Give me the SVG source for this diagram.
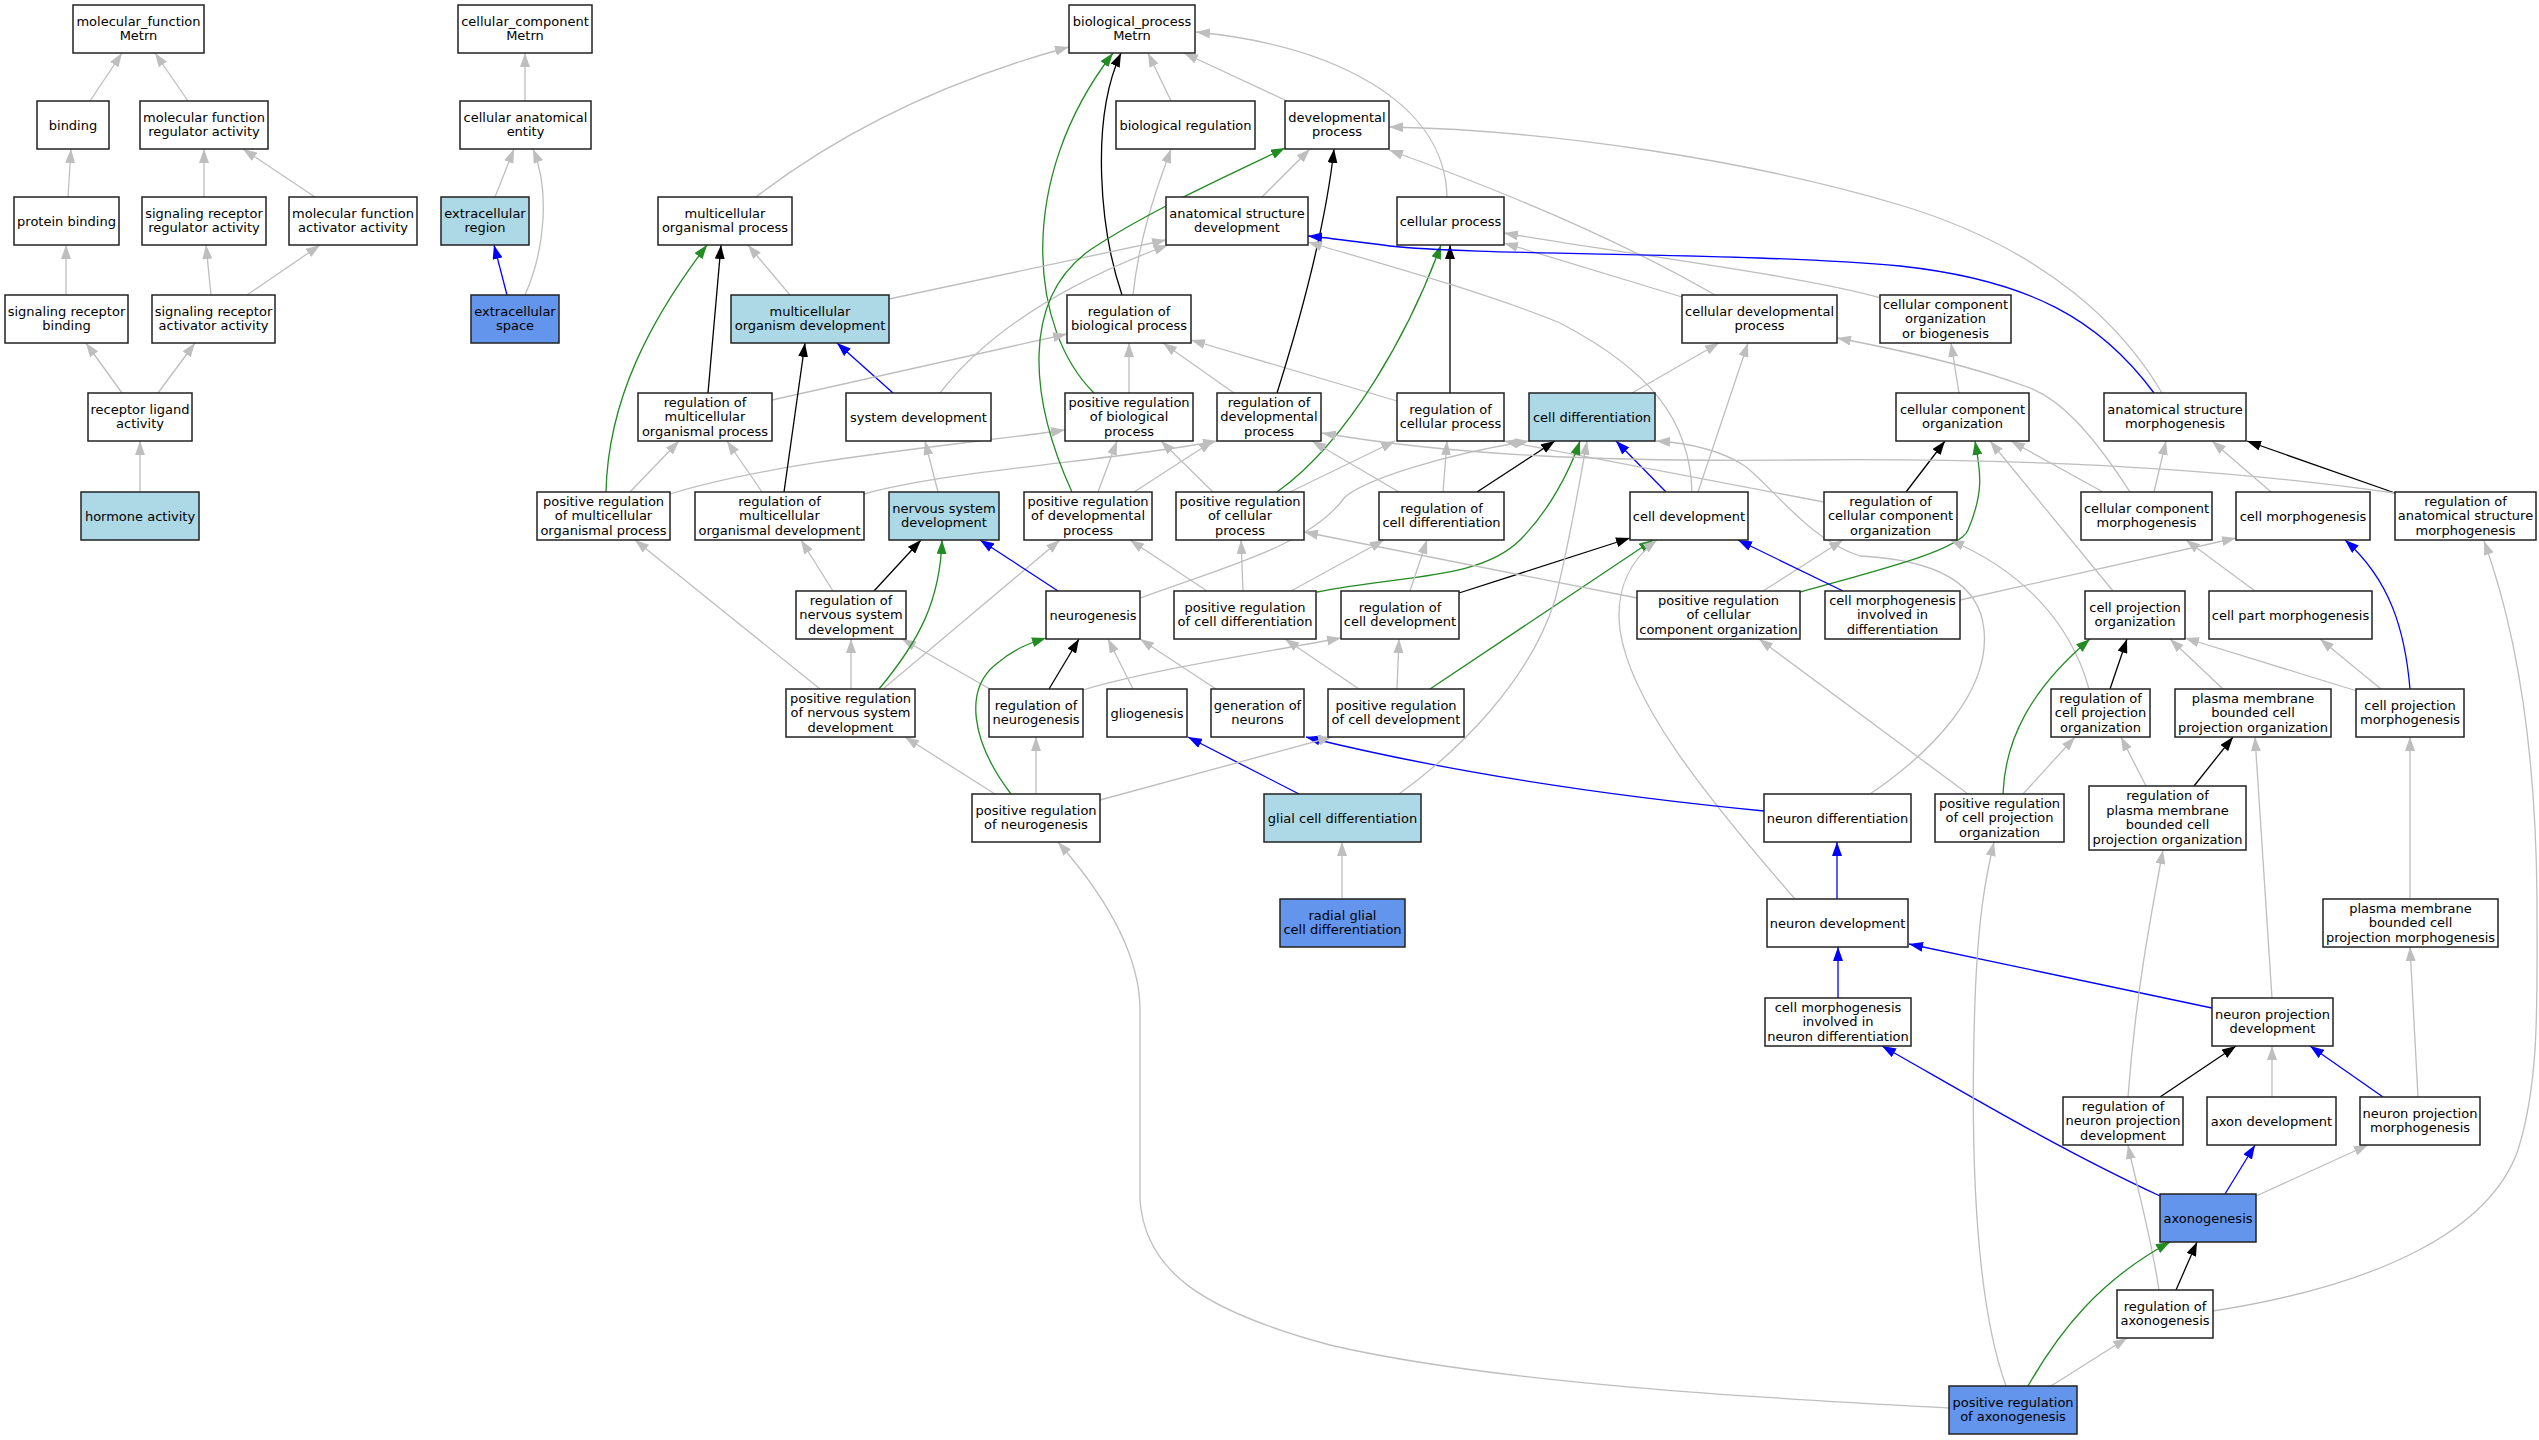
<svg xmlns="http://www.w3.org/2000/svg" width="2539" height="1440" viewBox="0 0 2539 1440">
<style>
.e{fill:none;stroke-width:1.3}
.g{stroke:#BEBEBE;marker-end:url(#mg)}
.k{stroke:#000000;marker-end:url(#mk)}
.b{stroke:#0000FF;marker-end:url(#mb)}
.v{stroke:#228B22;marker-end:url(#mv)}
.n rect{fill:#FFFFFF;stroke:#222222;stroke-width:1.5}
.lb rect{fill:#ADD8E6}
.cb rect{fill:#6495ED}
text{font-family:"DejaVu Sans","Liberation Sans",sans-serif;font-size:13px;text-anchor:middle;fill:#000000}
</style>
<defs>
<marker id="mg" viewBox="0 0 14 10" refX="14" refY="5" markerWidth="14" markerHeight="10" markerUnits="userSpaceOnUse" orient="auto"><path d="M0,0L14,5L0,10z" fill="#BEBEBE"/></marker>
<marker id="mk" viewBox="0 0 14 10" refX="14" refY="5" markerWidth="14" markerHeight="10" markerUnits="userSpaceOnUse" orient="auto"><path d="M0,0L14,5L0,10z" fill="#000000"/></marker>
<marker id="mb" viewBox="0 0 14 10" refX="14" refY="5" markerWidth="14" markerHeight="10" markerUnits="userSpaceOnUse" orient="auto"><path d="M0,0L14,5L0,10z" fill="#0000FF"/></marker>
<marker id="mv" viewBox="0 0 14 10" refX="14" refY="5" markerWidth="14" markerHeight="10" markerUnits="userSpaceOnUse" orient="auto"><path d="M0,0L14,5L0,10z" fill="#228B22"/></marker>
</defs>
<rect width="2539" height="1440" fill="#FFFFFF"/>
<g id="connectors">
<path class="e g" d="M90,101 L122,53"/>
<path class="e g" d="M188,101 L155,53"/>
<path class="e g" d="M68,197 L71,149"/>
<path class="e g" d="M204,197 L204,149"/>
<path class="e g" d="M315,197 L243,149"/>
<path class="e g" d="M66,295 L66,245"/>
<path class="e g" d="M211,295 L206,245"/>
<path class="e g" d="M247,295 L320,245"/>
<path class="e g" d="M122,393 L86,343"/>
<path class="e g" d="M158,393 L195,343"/>
<path class="e g" d="M140,492 L140,441"/>
<path class="e g" d="M525,101 L525,53"/>
<path class="e g" d="M495,197 L514,149"/>
<path class="e g" d="M525,295 C545,250 550,190 533,149"/>
<path class="e b" d="M507,295 L494,245"/>
<path class="e g" d="M756,197 C830,140 930,85 1069,47"/>
<path class="e g" d="M1171,101 L1148,53"/>
<path class="e g" d="M1287,101 L1184,53"/>
<path class="e g" d="M1447,197 C1445,100 1330,45 1196,32"/>
<path class="e k" d="M1122,295 C1100,230 1090,120 1121,53"/>
<path class="e v" d="M1094,393 C1030,330 1015,180 1113,53"/>
<path class="e g" d="M1133,295 C1140,230 1160,180 1171,149"/>
<path class="e g" d="M1262,197 L1310,149"/>
<path class="e g" d="M790,295 L748,245"/>
<path class="e g" d="M889,299 L1166,240"/>
<path class="e g" d="M940,393 C985,335 1060,285 1168,245"/>
<path class="e b" d="M893,393 L837,343"/>
<path class="e k" d="M708,393 L721,245"/>
<path class="e g" d="M772,400 L1067,334"/>
<path class="e v" d="M606,492 C608,400 650,320 707,245"/>
<path class="e g" d="M630,492 L679,441"/>
<path class="e g" d="M670,494 C780,460 960,445 1065,430"/>
<path class="e k" d="M784,492 L805,343"/>
<path class="e g" d="M762,492 L727,441"/>
<path class="e g" d="M864,494 C950,470 1120,460 1217,441"/>
<path class="e g" d="M938,492 L925,441"/>
<path class="e g" d="M1129,393 L1129,343"/>
<path class="e g" d="M1234,393 L1163,343"/>
<path class="e g" d="M1397,401 L1191,340"/>
<path class="e k" d="M1277,393 C1300,320 1325,230 1334,149"/>
<path class="e k" d="M1450,393 L1450,245"/>
<path class="e v" d="M1072,492 C1030,400 1020,300 1090,250 C1150,210 1230,175 1285,148"/>
<path class="e g" d="M1098,492 L1117,441"/>
<path class="e g" d="M1134,492 L1213,441"/>
<path class="e g" d="M1213,492 L1161,441"/>
<path class="e g" d="M1290,492 L1395,441"/>
<path class="e v" d="M1277,492 C1350,440 1410,330 1441,245"/>
<path class="e g" d="M1715,295 C1620,240 1500,190 1389,150"/>
<path class="e g" d="M1682,297 L1504,243"/>
<path class="e g" d="M1881,298 C1800,275 1600,250 1504,233"/>
<path class="e g" d="M1632,393 L1719,343"/>
<path class="e g" d="M2162,393 C2125,330 2050,250 1900,205 C1750,160 1550,130 1389,127"/>
<path class="e b" d="M2154,393 C2100,320 2030,280 1900,266 C1750,252 1480,256 1390,246 C1350,241 1330,238 1308,236"/>
<path class="e b" d="M1666,492 L1616,441"/>
<path class="e g" d="M1698,492 L1748,343"/>
<path class="e g" d="M1692,492 C1690,420 1650,370 1560,323 C1480,290 1350,255 1308,242"/>
<path class="e g" d="M1959,393 L1951,343"/>
<path class="e k" d="M1906,492 L1945,441"/>
<path class="e g" d="M1824,502 L1504,441"/>
<path class="e g" d="M1140,598 C1230,565 1310,545 1345,497 C1365,480 1440,455 1529,441"/>
<path class="e k" d="M1477,492 L1555,441"/>
<path class="e g" d="M1443,492 L1447,441"/>
<path class="e g" d="M1399,492 L1312,441"/>
<path class="e v" d="M1317,592 C1400,575 1480,580 1520,540 C1550,510 1570,470 1580,441"/>
<path class="e g" d="M1291,591 L1384,540"/>
<path class="e g" d="M1243,591 L1241,540"/>
<path class="e g" d="M1207,591 L1130,540"/>
<path class="e k" d="M1459,593 L1630,538"/>
<path class="e g" d="M1410,591 L1427,540"/>
<path class="e v" d="M1430,689 L1653,540"/>
<path class="e g" d="M1397,689 L1399,639"/>
<path class="e g" d="M1359,689 L1285,639"/>
<path class="e g" d="M1795,899 C1700,790 1630,700 1620,630 C1615,590 1630,560 1657,540"/>
<path class="e g" d="M1870,794 C1935,750 1990,690 1984,630 C1980,585 1940,560 1860,556 C1810,540 1775,490 1745,466 C1720,450 1690,443 1656,441"/>
<path class="e b" d="M1838,998 L1838,947"/>
<path class="e b" d="M1837,899 L1837,842"/>
<path class="e b" d="M1764,811 C1620,797 1460,775 1306,737"/>
<path class="e b" d="M1299,794 L1188,737"/>
<path class="e g" d="M1399,794 C1460,750 1530,680 1555,600 C1570,540 1580,480 1587,441"/>
<path class="e g" d="M1342,899 L1342,842"/>
<path class="e g" d="M1216,689 L1140,639"/>
<path class="e g" d="M1133,689 L1108,639"/>
<path class="e k" d="M1049,689 L1079,639"/>
<path class="e g" d="M990,689 L902,639"/>
<path class="e g" d="M1083,690 C1150,670 1250,655 1341,638"/>
<path class="e v" d="M1011,794 C970,740 965,690 995,665 C1015,648 1030,643 1046,638"/>
<path class="e g" d="M1036,794 L1036,737"/>
<path class="e g" d="M995,794 L905,737"/>
<path class="e g" d="M1100,800 L1332,737"/>
<path class="e k" d="M874,591 L921,540"/>
<path class="e g" d="M833,591 L801,540"/>
<path class="e v" d="M879,689 C920,640 940,600 942,540"/>
<path class="e g" d="M851,689 L851,639"/>
<path class="e g" d="M820,689 L635,540"/>
<path class="e g" d="M883,689 L1060,540"/>
<path class="e b" d="M1058,591 L980,540"/>
<path class="e v" d="M1800,592 C1880,570 1960,550 1968,530 C1985,490 1980,470 1975,441"/>
<path class="e g" d="M1763,591 L1843,540"/>
<path class="e g" d="M1637,598 L1304,532"/>
<path class="e b" d="M1843,591 L1738,540"/>
<path class="e g" d="M1960,600 L2236,538"/>
<path class="e g" d="M2113,591 L1990,441"/>
<path class="e g" d="M2103,492 L2011,441"/>
<path class="e g" d="M2154,492 L2166,441"/>
<path class="e g" d="M2130,492 C2090,430 2060,400 2030,388 C1970,365 1900,350 1837,338"/>
<path class="e g" d="M2271,492 L2212,441"/>
<path class="e g" d="M2255,591 L2186,540"/>
<path class="e k" d="M2395,493 L2247,441"/>
<path class="e g" d="M2394,493 C2200,465 2000,458 1800,460 C1600,462 1450,455 1322,433"/>
<path class="e k" d="M2110,689 L2127,639"/>
<path class="e g" d="M2089,689 C2070,620 2020,570 1950,540"/>
<path class="e v" d="M2003,794 C2005,740 2030,690 2090,639"/>
<path class="e g" d="M2023,794 L2075,737"/>
<path class="e g" d="M1968,794 L1759,639"/>
<path class="e g" d="M2223,689 L2170,639"/>
<path class="e k" d="M2194,786 L2233,737"/>
<path class="e g" d="M2146,786 L2121,737"/>
<path class="e g" d="M2357,691 L2185,638"/>
<path class="e g" d="M2381,689 L2320,639"/>
<path class="e b" d="M2410,689 C2405,630 2390,580 2345,540"/>
<path class="e g" d="M2410,899 L2410,737"/>
<path class="e g" d="M2272,998 L2255,737"/>
<path class="e b" d="M2212,1008 L1909,944"/>
<path class="e k" d="M2160,1097 L2236,1046"/>
<path class="e g" d="M2128,1097 C2135,1000 2150,920 2163,850"/>
<path class="e g" d="M2272,1097 L2272,1046"/>
<path class="e b" d="M2383,1097 L2310,1046"/>
<path class="e g" d="M2418,1097 L2410,947"/>
<path class="e b" d="M2225,1194 L2255,1145"/>
<path class="e b" d="M2160,1196 C2060,1150 1960,1090 1882,1046"/>
<path class="e g" d="M2256,1196 L2368,1145"/>
<path class="e k" d="M2176,1290 L2197,1242"/>
<path class="e g" d="M2159,1290 C2150,1230 2135,1180 2128,1145"/>
<path class="e g" d="M2213,1311 C2380,1285 2490,1230 2518,1150 C2540,1080 2537,1000 2537,900 C2536,760 2520,640 2484,541"/>
<path class="e v" d="M2028,1386 C2060,1330 2100,1280 2170,1242"/>
<path class="e g" d="M2051,1386 L2127,1338"/>
<path class="e g" d="M2006,1386 C1975,1300 1970,1150 1975,1000 C1978,920 1985,880 1994,842"/>
<path class="e g" d="M1949,1408 C1800,1400 1500,1385 1330,1345 C1200,1310 1145,1270 1140,1200 L1140,1010 C1140,950 1100,890 1058,842"/>
</g>
<g id="n_mf" class="n"><rect x="73" y="5" width="131" height="48"/><text x="138.5" y="26">molecular_function</text><text x="138.5" y="40">Metrn</text></g>
<g id="n_cc" class="n"><rect x="458" y="5" width="134" height="48"/><text x="525" y="26">cellular_component</text><text x="525" y="40">Metrn</text></g>
<g id="n_bp" class="n"><rect x="1069" y="5" width="126" height="48"/><text x="1132" y="26">biological_process</text><text x="1132" y="40">Metrn</text></g>
<g id="n_binding" class="n"><rect x="37" y="101" width="72" height="48"/><text x="73" y="129.5">binding</text></g>
<g id="n_mfra" class="n"><rect x="140" y="101" width="128" height="48"/><text x="204" y="122">molecular function</text><text x="204" y="136">regulator activity</text></g>
<g id="n_cae" class="n"><rect x="460" y="101" width="131" height="48"/><text x="525.5" y="122">cellular anatomical</text><text x="525.5" y="136">entity</text></g>
<g id="n_bioreg" class="n"><rect x="1116" y="101" width="139" height="48"/><text x="1185.5" y="129.5">biological regulation</text></g>
<g id="n_devproc" class="n"><rect x="1285" y="101" width="104" height="48"/><text x="1337" y="122">developmental</text><text x="1337" y="136">process</text></g>
<g id="n_protbind" class="n"><rect x="14" y="197" width="105" height="48"/><text x="66.5" y="225.5">protein binding</text></g>
<g id="n_srra" class="n"><rect x="142" y="197" width="124" height="48"/><text x="204" y="218">signaling receptor</text><text x="204" y="232">regulator activity</text></g>
<g id="n_mfaa" class="n"><rect x="289" y="197" width="128" height="48"/><text x="353" y="218">molecular function</text><text x="353" y="232">activator activity</text></g>
<g id="n_exreg" class="n lb"><rect x="441" y="197" width="88" height="48"/><text x="485" y="218">extracellular</text><text x="485" y="232">region</text></g>
<g id="n_mop" class="n"><rect x="658" y="197" width="134" height="48"/><text x="725" y="218">multicellular</text><text x="725" y="232">organismal process</text></g>
<g id="n_asd" class="n"><rect x="1166" y="197" width="142" height="48"/><text x="1237" y="218">anatomical structure</text><text x="1237" y="232">development</text></g>
<g id="n_cellproc" class="n"><rect x="1397" y="197" width="107" height="48"/><text x="1450.5" y="225.5">cellular process</text></g>
<g id="n_srb" class="n"><rect x="5" y="295" width="123" height="48"/><text x="66.5" y="316">signaling receptor</text><text x="66.5" y="330">binding</text></g>
<g id="n_sraa" class="n"><rect x="152" y="295" width="123" height="48"/><text x="213.5" y="316">signaling receptor</text><text x="213.5" y="330">activator activity</text></g>
<g id="n_exspace" class="n cb"><rect x="471" y="295" width="88" height="48"/><text x="515" y="316">extracellular</text><text x="515" y="330">space</text></g>
<g id="n_mod" class="n lb"><rect x="731" y="295" width="158" height="48"/><text x="810" y="316">multicellular</text><text x="810" y="330">organism development</text></g>
<g id="n_rbp" class="n"><rect x="1067" y="295" width="124" height="48"/><text x="1129" y="316">regulation of</text><text x="1129" y="330">biological process</text></g>
<g id="n_cdp" class="n"><rect x="1682" y="295" width="155" height="48"/><text x="1759.5" y="316">cellular developmental</text><text x="1759.5" y="330">process</text></g>
<g id="n_ccob" class="n"><rect x="1880" y="295" width="131" height="48"/><text x="1945.5" y="308.5">cellular component</text><text x="1945.5" y="323">organization</text><text x="1945.5" y="337.5">or biogenesis</text></g>
<g id="n_rla" class="n"><rect x="88" y="393" width="104" height="48"/><text x="140" y="414">receptor ligand</text><text x="140" y="428">activity</text></g>
<g id="n_rmop" class="n"><rect x="638" y="393" width="134" height="48"/><text x="705" y="406.5">regulation of</text><text x="705" y="421">multicellular</text><text x="705" y="435.5">organismal process</text></g>
<g id="n_sysdev" class="n"><rect x="846" y="393" width="145" height="48"/><text x="918.5" y="421.5">system development</text></g>
<g id="n_prbp" class="n"><rect x="1065" y="393" width="128" height="48"/><text x="1129" y="406.5">positive regulation</text><text x="1129" y="421">of biological</text><text x="1129" y="435.5">process</text></g>
<g id="n_rdp" class="n"><rect x="1217" y="393" width="104" height="48"/><text x="1269" y="406.5">regulation of</text><text x="1269" y="421">developmental</text><text x="1269" y="435.5">process</text></g>
<g id="n_rcp" class="n"><rect x="1397" y="393" width="107" height="48"/><text x="1450.5" y="414">regulation of</text><text x="1450.5" y="428">cellular process</text></g>
<g id="n_celldiff" class="n lb"><rect x="1529" y="393" width="126" height="48"/><text x="1592" y="421.5">cell differentiation</text></g>
<g id="n_cco" class="n"><rect x="1896" y="393" width="133" height="48"/><text x="1962.5" y="414">cellular component</text><text x="1962.5" y="428">organization</text></g>
<g id="n_asm" class="n"><rect x="2104" y="393" width="142" height="48"/><text x="2175" y="414">anatomical structure</text><text x="2175" y="428">morphogenesis</text></g>
<g id="n_hormone" class="n lb"><rect x="81" y="492" width="118" height="48"/><text x="140" y="520.5">hormone activity</text></g>
<g id="n_prmop" class="n"><rect x="537" y="492" width="133" height="48"/><text x="603.5" y="505.5">positive regulation</text><text x="603.5" y="520">of multicellular</text><text x="603.5" y="534.5">organismal process</text></g>
<g id="n_rmod" class="n"><rect x="695" y="492" width="169" height="48"/><text x="779.5" y="505.5">regulation of</text><text x="779.5" y="520">multicellular</text><text x="779.5" y="534.5">organismal development</text></g>
<g id="n_nsd" class="n lb"><rect x="889" y="492" width="110" height="48"/><text x="944" y="513">nervous system</text><text x="944" y="527">development</text></g>
<g id="n_prdp" class="n"><rect x="1024" y="492" width="128" height="48"/><text x="1088" y="505.5">positive regulation</text><text x="1088" y="520">of developmental</text><text x="1088" y="534.5">process</text></g>
<g id="n_prcp" class="n"><rect x="1176" y="492" width="128" height="48"/><text x="1240" y="505.5">positive regulation</text><text x="1240" y="520">of cellular</text><text x="1240" y="534.5">process</text></g>
<g id="n_rcd" class="n"><rect x="1379" y="492" width="125" height="48"/><text x="1441.5" y="513">regulation of</text><text x="1441.5" y="527">cell differentiation</text></g>
<g id="n_celldev" class="n"><rect x="1630" y="492" width="118" height="48"/><text x="1689" y="520.5">cell development</text></g>
<g id="n_rcco" class="n"><rect x="1824" y="492" width="133" height="48"/><text x="1890.5" y="505.5">regulation of</text><text x="1890.5" y="520">cellular component</text><text x="1890.5" y="534.5">organization</text></g>
<g id="n_ccm" class="n"><rect x="2081" y="492" width="131" height="48"/><text x="2146.5" y="513">cellular component</text><text x="2146.5" y="527">morphogenesis</text></g>
<g id="n_cellmorph" class="n"><rect x="2236" y="492" width="134" height="48"/><text x="2303" y="520.5">cell morphogenesis</text></g>
<g id="n_rasm" class="n"><rect x="2395" y="492" width="141" height="48"/><text x="2465.5" y="505.5">regulation of</text><text x="2465.5" y="520">anatomical structure</text><text x="2465.5" y="534.5">morphogenesis</text></g>
<g id="n_rnsd" class="n"><rect x="796" y="591" width="110" height="48"/><text x="851" y="604.5">regulation of</text><text x="851" y="619">nervous system</text><text x="851" y="633.5">development</text></g>
<g id="n_neuro" class="n"><rect x="1046" y="591" width="94" height="48"/><text x="1093" y="619.5">neurogenesis</text></g>
<g id="n_prcd" class="n"><rect x="1174" y="591" width="142" height="48"/><text x="1245" y="612">positive regulation</text><text x="1245" y="626">of cell differentiation</text></g>
<g id="n_rcdev" class="n"><rect x="1341" y="591" width="118" height="48"/><text x="1400" y="612">regulation of</text><text x="1400" y="626">cell development</text></g>
<g id="n_prcco" class="n"><rect x="1637" y="591" width="163" height="48"/><text x="1718.5" y="604.5">positive regulation</text><text x="1718.5" y="619">of cellular</text><text x="1718.5" y="633.5">component organization</text></g>
<g id="n_cmid" class="n"><rect x="1825" y="591" width="135" height="48"/><text x="1892.5" y="604.5">cell morphogenesis</text><text x="1892.5" y="619">involved in</text><text x="1892.5" y="633.5">differentiation</text></g>
<g id="n_cpo" class="n"><rect x="2085" y="591" width="100" height="48"/><text x="2135" y="612">cell projection</text><text x="2135" y="626">organization</text></g>
<g id="n_cpart" class="n"><rect x="2209" y="591" width="163" height="48"/><text x="2290.5" y="619.5">cell part morphogenesis</text></g>
<g id="n_prnsd" class="n"><rect x="786" y="689" width="129" height="48"/><text x="850.5" y="702.5">positive regulation</text><text x="850.5" y="717">of nervous system</text><text x="850.5" y="731.5">development</text></g>
<g id="n_rneuro" class="n"><rect x="989" y="689" width="94" height="48"/><text x="1036" y="710">regulation of</text><text x="1036" y="724">neurogenesis</text></g>
<g id="n_glio" class="n"><rect x="1107" y="689" width="80" height="48"/><text x="1147" y="717.5">gliogenesis</text></g>
<g id="n_genneur" class="n"><rect x="1211" y="689" width="93" height="48"/><text x="1257.5" y="710">generation of</text><text x="1257.5" y="724">neurons</text></g>
<g id="n_prcdev" class="n"><rect x="1328" y="689" width="136" height="48"/><text x="1396" y="710">positive regulation</text><text x="1396" y="724">of cell development</text></g>
<g id="n_rcpo" class="n"><rect x="2051" y="689" width="99" height="48"/><text x="2100.5" y="702.5">regulation of</text><text x="2100.5" y="717">cell projection</text><text x="2100.5" y="731.5">organization</text></g>
<g id="n_pmbcpo" class="n"><rect x="2175" y="689" width="156" height="48"/><text x="2253" y="702.5">plasma membrane</text><text x="2253" y="717">bounded cell</text><text x="2253" y="731.5">projection organization</text></g>
<g id="n_cpmorph" class="n"><rect x="2356" y="689" width="108" height="48"/><text x="2410" y="710">cell projection</text><text x="2410" y="724">morphogenesis</text></g>
<g id="n_prneuro" class="n"><rect x="972" y="794" width="128" height="48"/><text x="1036" y="815">positive regulation</text><text x="1036" y="829">of neurogenesis</text></g>
<g id="n_glialdiff" class="n lb"><rect x="1264" y="794" width="157" height="48"/><text x="1342.5" y="822.5">glial cell differentiation</text></g>
<g id="n_neurdiff" class="n"><rect x="1764" y="794" width="147" height="48"/><text x="1837.5" y="822.5">neuron differentiation</text></g>
<g id="n_prcpo" class="n"><rect x="1935" y="794" width="129" height="48"/><text x="1999.5" y="807.5">positive regulation</text><text x="1999.5" y="822">of cell projection</text><text x="1999.5" y="836.5">organization</text></g>
<g id="n_rpmbcpo" class="n"><rect x="2089" y="786" width="157" height="64"/><text x="2167.5" y="800">regulation of</text><text x="2167.5" y="814.5">plasma membrane</text><text x="2167.5" y="829">bounded cell</text><text x="2167.5" y="843.5">projection organization</text></g>
<g id="n_radial" class="n cb"><rect x="1280" y="899" width="125" height="48"/><text x="1342.5" y="920">radial glial</text><text x="1342.5" y="934">cell differentiation</text></g>
<g id="n_neurdev" class="n"><rect x="1767" y="899" width="141" height="48"/><text x="1837.5" y="927.5">neuron development</text></g>
<g id="n_pmbcpm" class="n"><rect x="2323" y="899" width="175" height="48"/><text x="2410.5" y="912.5">plasma membrane</text><text x="2410.5" y="927">bounded cell</text><text x="2410.5" y="941.5">projection morphogenesis</text></g>
<g id="n_cmind" class="n"><rect x="1765" y="998" width="146" height="48"/><text x="1838" y="1011.5">cell morphogenesis</text><text x="1838" y="1026">involved in</text><text x="1838" y="1040.5">neuron differentiation</text></g>
<g id="n_npd" class="n"><rect x="2212" y="998" width="121" height="48"/><text x="2272.5" y="1019">neuron projection</text><text x="2272.5" y="1033">development</text></g>
<g id="n_rnpd" class="n"><rect x="2063" y="1097" width="120" height="48"/><text x="2123" y="1110.5">regulation of</text><text x="2123" y="1125">neuron projection</text><text x="2123" y="1139.5">development</text></g>
<g id="n_axondev" class="n"><rect x="2207" y="1097" width="129" height="48"/><text x="2271.5" y="1125.5">axon development</text></g>
<g id="n_npm" class="n"><rect x="2360" y="1097" width="120" height="48"/><text x="2420" y="1118">neuron projection</text><text x="2420" y="1132">morphogenesis</text></g>
<g id="n_axono" class="n cb"><rect x="2160" y="1194" width="96" height="48"/><text x="2208" y="1222.5">axonogenesis</text></g>
<g id="n_raxono" class="n"><rect x="2117" y="1290" width="96" height="48"/><text x="2165" y="1311">regulation of</text><text x="2165" y="1325">axonogenesis</text></g>
<g id="n_praxono" class="n cb"><rect x="1949" y="1386" width="128" height="48"/><text x="2013" y="1407">positive regulation</text><text x="2013" y="1421">of axonogenesis</text></g>
</svg>
